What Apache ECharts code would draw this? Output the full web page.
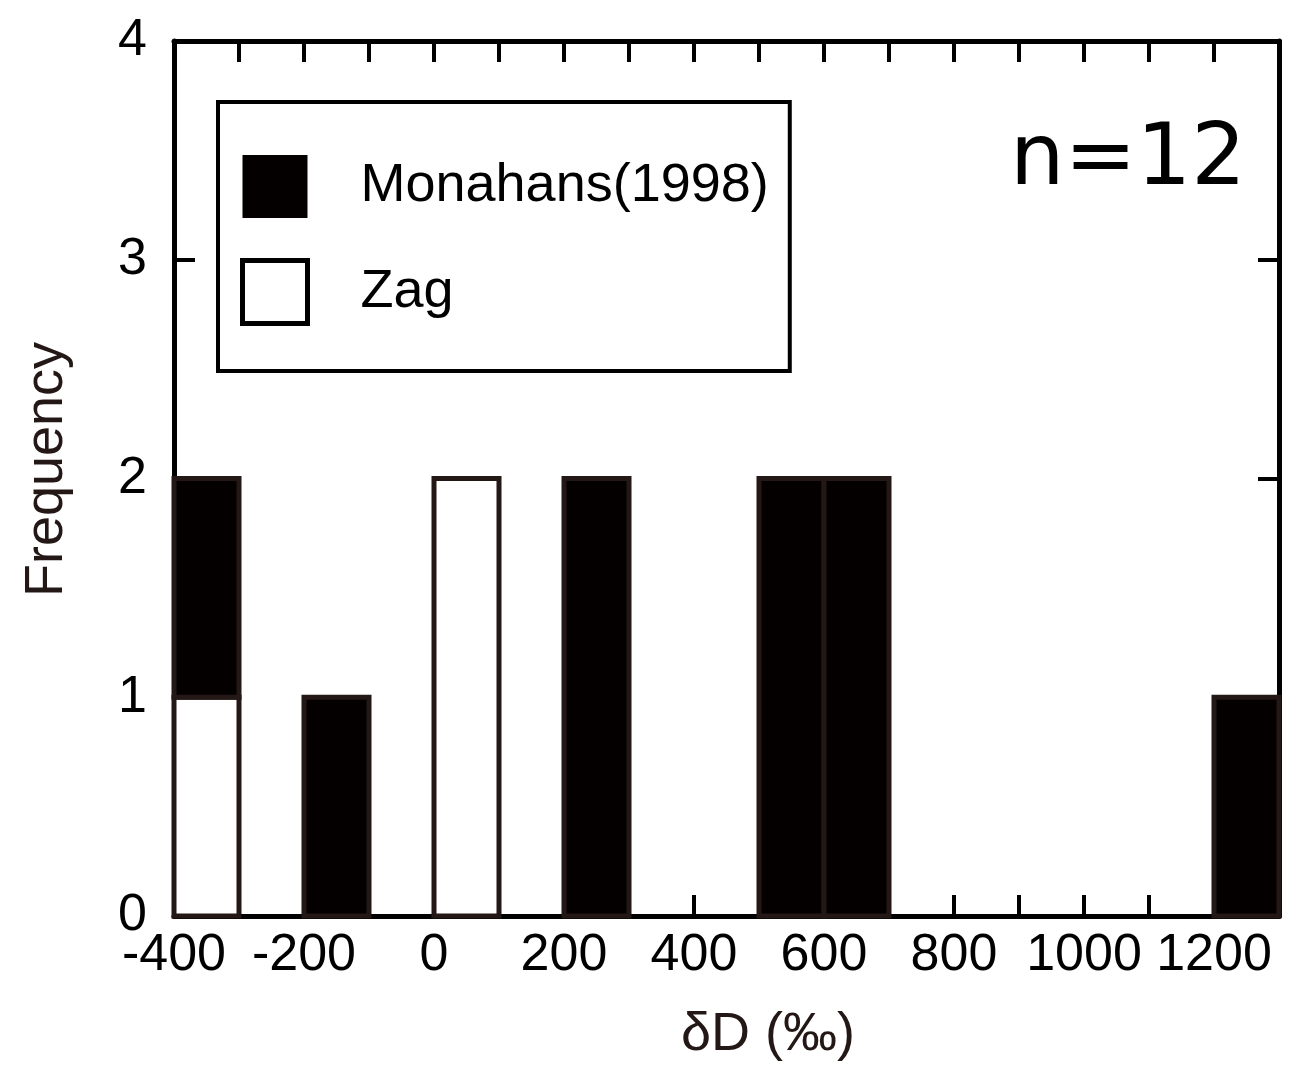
<!DOCTYPE html>
<html>
<head>
<meta charset="utf-8">
<script src="https://cdn.jsdelivr.net/npm/echarts@6/dist/echarts.min.js"></script>
<style>
  html, body { margin: 0; padding: 0; background: #fff; }
  #chart { width: 1303px; height: 1067px; }
</style>
</head>
<body>
<div id="chart"></div>
<script>
// Histogram of deltaD values, 100 permil bins
const binStarts = [-400, -300, -200, -100, 0, 100, 200, 300, 400, 500, 600, 700, 800, 900, 1000, 1100, 1200];
const binWidth = 100;
const monahans = [1, 0, 1, 0, 0, 0, 2, 0, 0, 2, 2, 0, 0, 0, 0, 0, 1];
const zag      = [1, 0, 0, 0, 2, 0, 0, 0, 0, 0, 0, 0, 0, 0, 0, 0, 0];
const xTickLabels = [-400, -200, 0, 200, 400, 600, 800, 1000, 1200];
const yTickLabels = [0, 1, 2, 3, 4];
const seriesNames = ['Monahans(1998)', 'Zag'];

const INK = '#231815';
const FILL = '#040000';

// build [start, end, base, top] rectangles; Zag sits under Monahans
function buildBins(counts, bases) {
  const out = [];
  counts.forEach(function (c, i) {
    if (c > 0) {
      const b = bases ? bases[i] : 0;
      out.push([binStarts[i], binStarts[i] + binWidth, b, b + c]);
    }
  });
  return out;
}
const zagBins = buildBins(zag, null);
const monBins = buildBins(monahans, zag);

function makeRender(fill) {
  return function (params, api) {
    const p0 = api.coord([api.value(0), api.value(2)]);
    const p1 = api.coord([api.value(1), api.value(3)]);
    return {
      type: 'rect',
      shape: { x: p0[0], y: p1[1], width: p1[0] - p0[0], height: p0[1] - p1[1] },
      style: { fill: fill, stroke: INK, lineWidth: 5 }
    };
  };
}

const xMin = binStarts[0];
const xMax = binStarts[binStarts.length - 1] + binWidth;
const yMin = yTickLabels[0];
const yMax = yTickLabels[yTickLabels.length - 1];

const axisLine = { show: true, onZero: false, lineStyle: { color: '#000', width: 5 } };
const axisTick = { show: true, inside: true, length: 21, lineStyle: { color: '#000', width: 4 } };
const FONT = '"Liberation Sans", Arial, Helvetica, sans-serif';

const chart = echarts.init(document.getElementById('chart'), null, { renderer: 'canvas' });
chart.setOption({
  animation: false,
  backgroundColor: '#fff',
  title: {
    text: 'n=12',
    right: 52,
    top: 114,
    textStyle: { fontFamily: '"DejaVu Sans", sans-serif', fontSize: 86, fontWeight: 'normal', color: '#000' }
  },
  legend: {
    orient: 'vertical',
    left: 218,
    top: 102,
    padding: [53, 21, 45, 22],
    itemGap: 40,
    itemWidth: 65,
    itemHeight: 63,
    backgroundColor: '#fff',
    borderColor: '#000',
    borderWidth: 4,
    borderRadius: 0,
    textStyle: { fontFamily: FONT, fontSize: 54, color: '#000', lineHeight: 63, padding: [0, 0, 0, 48] },
    data: [
      { name: seriesNames[0], icon: 'rect', itemStyle: { color: FILL, borderWidth: 0 } },
      { name: seriesNames[1], icon: 'rect', itemStyle: { color: '#fff', borderColor: '#000', borderWidth: 5 } }
    ]
  },
  grid: { left: 174, top: 41, width: 1105, height: 880, containLabel: false },
  xAxis: [
    {
      type: 'value', position: 'bottom', min: xMin, max: xMax, interval: binWidth,
      axisLine: axisLine, axisTick: axisTick, splitLine: { show: false },
      axisLabel: {
        margin: 14, fontFamily: FONT, fontSize: 52, color: '#000',
        formatter: function (v) { return xTickLabels.indexOf(v) >= 0 ? String(v) : ''; }
      },
      name: 'δD (‰)', nameLocation: 'middle', nameGap: 92,
      nameTextStyle: { fontFamily: FONT, fontSize: 54, color: INK, padding: [0, 0, 0, 83] }
    },
    {
      type: 'value', position: 'top', min: xMin, max: xMax, interval: binWidth,
      axisLine: axisLine, axisTick: axisTick, splitLine: { show: false },
      axisLabel: { show: false }
    }
  ],
  yAxis: [
    {
      type: 'value', position: 'left', min: yMin, max: yMax, interval: 1,
      axisLine: axisLine, axisTick: axisTick, splitLine: { show: false },
      axisLabel: {
        margin: 27, fontFamily: FONT, fontSize: 52, color: '#000',
        formatter: function (v) { return yTickLabels.indexOf(v) >= 0 ? String(v) : ''; }
      },
      name: 'Frequency', nameLocation: 'middle', nameGap: 100,
      nameTextStyle: { fontFamily: FONT, fontSize: 54, color: INK, padding: [0, 0, 0, 18] }
    },
    {
      type: 'value', position: 'right', min: yMin, max: yMax, interval: 1,
      axisLine: axisLine, axisTick: axisTick, splitLine: { show: false },
      axisLabel: { show: false }
    }
  ],
  series: [
    {
      name: seriesNames[1], type: 'custom', xAxisIndex: 0, yAxisIndex: 0,
      renderItem: makeRender('#fff'), data: zagBins, clip: false,
      itemStyle: { color: '#fff', borderColor: INK }
    },
    {
      name: seriesNames[0], type: 'custom', xAxisIndex: 0, yAxisIndex: 0,
      renderItem: makeRender(FILL), data: monBins, clip: false,
      itemStyle: { color: FILL }
    }
  ]
});
</script>
</body>
</html>
